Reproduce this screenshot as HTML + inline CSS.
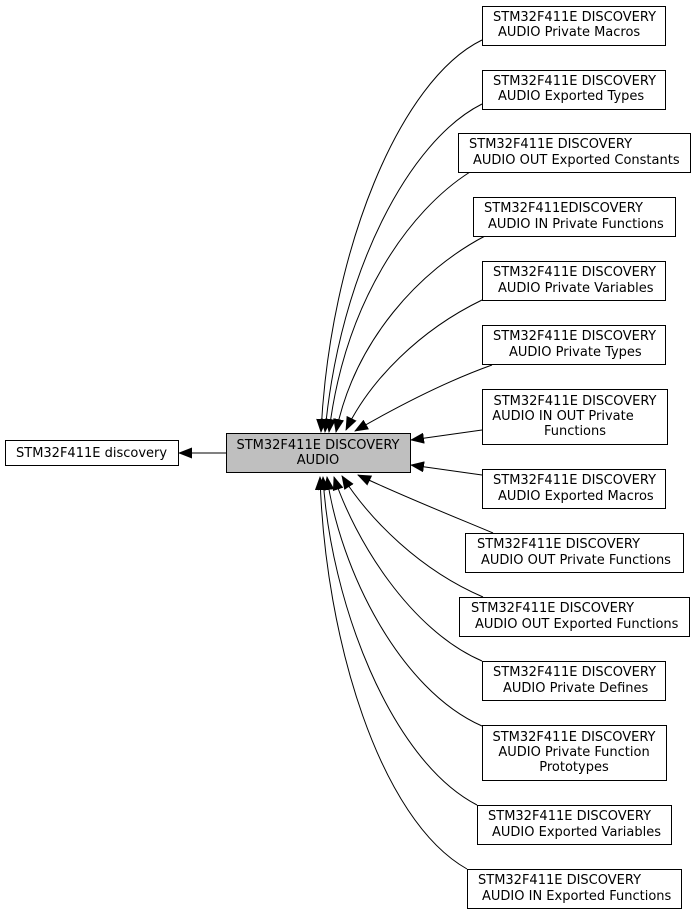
<!DOCTYPE html>
<html><head><meta charset="utf-8"><style>
html,body{margin:0;padding:0;background:#fff;}
svg{display:block;}
text{font-family:"DejaVu Sans","Liberation Sans",sans-serif;font-size:13px;fill:#000;}
</style></head><body>
<svg width="696" height="915" viewBox="0 0 696 915" xmlns="http://www.w3.org/2000/svg">
<defs>
<marker id="a" markerWidth="14" markerHeight="11" refX="13" refY="5.5" orient="auto" markerUnits="userSpaceOnUse">
<polygon points="0,0 14,5.5 0,11" fill="#000"/>
</marker>
</defs>
<g fill="none" stroke="#000" stroke-width="1" marker-end="url(#a)">
<path d="M482,40 C400,80 330,250 321,432"/>
<path d="M482,104 C410,140 340,270 325,432"/>
<path d="M470,172 C410,210 345,300 329,432"/>
<path d="M485,236 C420,270 355,340 336,432"/>
<path d="M482,300 C420,330 370,380 346,430"/>
<path d="M492,365 C450,380 400,405 355,431"/>
<path d="M482,430 L411,440"/>
<path d="M482,475 L411,465"/>
<path d="M493,533 C450,515 400,495 358,475"/>
<path d="M483,597 C420,570 370,520 342,476"/>
<path d="M482,661 C410,630 355,540 334,477"/>
<path d="M482,726 C400,690 340,570 327,477"/>
<path d="M477,805 C390,760 330,600 323,477"/>
<path d="M467,869 C380,820 325,640 320,477"/>
<path d="M226,453 L179,453"/>
</g>
<g fill="#fff" stroke="#000" stroke-width="1">
<rect x="482.5" y="6.5" width="183" height="39"/>
<rect x="482.5" y="70.5" width="183" height="39"/>
<rect x="458.5" y="133.5" width="232" height="39"/>
<rect x="473.5" y="197.5" width="202" height="39"/>
<rect x="482.5" y="261.5" width="183" height="39"/>
<rect x="482.5" y="325.5" width="183" height="39"/>
<rect x="482.5" y="389.5" width="185" height="55"/>
<rect x="482.5" y="469.5" width="183" height="39"/>
<rect x="465.5" y="533.5" width="218" height="39"/>
<rect x="459.5" y="597.5" width="230" height="39"/>
<rect x="482.5" y="661.5" width="183" height="39"/>
<rect x="482.5" y="725.5" width="184" height="55"/>
<rect x="477.5" y="805.5" width="194" height="39"/>
<rect x="467.5" y="869.5" width="214" height="39"/>
<rect x="5.5" y="440.5" width="173" height="25"/>
<rect x="226.5" y="433.5" width="184" height="39" fill="#bfbfbf"/>
</g>
<text x="493" y="21">STM32F411E DISCOVERY</text><text x="498" y="36">AUDIO Private Macros</text>
<text x="493" y="85">STM32F411E DISCOVERY</text><text x="498" y="100">AUDIO Exported Types</text>
<text x="469" y="148">STM32F411E DISCOVERY</text><text x="473" y="164">AUDIO OUT Exported Constants</text>
<text x="484" y="212">STM32F411EDISCOVERY</text><text x="488" y="228">AUDIO IN Private Functions</text>
<text x="493" y="276">STM32F411E DISCOVERY</text><text x="498" y="292">AUDIO Private Variables</text>
<text x="493" y="340">STM32F411E DISCOVERY</text><text x="509" y="356">AUDIO Private Types</text>
<g text-anchor="middle">
<text x="575" y="405">STM32F411E DISCOVERY</text><text x="563" y="420">AUDIO IN OUT Private</text><text x="575" y="435">Functions</text>
<text x="574" y="741">STM32F411E DISCOVERY</text><text x="574" y="756">AUDIO Private Function</text><text x="574" y="771">Prototypes</text>
<text x="318" y="449">STM32F411E DISCOVERY</text><text x="318" y="464">AUDIO</text>
</g>
<text x="493" y="484">STM32F411E DISCOVERY</text><text x="498" y="500">AUDIO Exported Macros</text>
<text x="477" y="548">STM32F411E DISCOVERY</text><text x="481" y="564">AUDIO OUT Private Functions</text>
<text x="471" y="612">STM32F411E DISCOVERY</text><text x="475" y="628">AUDIO OUT Exported Functions</text>
<text x="493" y="676">STM32F411E DISCOVERY</text><text x="503" y="692">AUDIO Private Defines</text>
<text x="488" y="820">STM32F411E DISCOVERY</text><text x="492" y="836">AUDIO Exported Variables</text>
<text x="478" y="884">STM32F411E DISCOVERY</text><text x="482" y="900">AUDIO IN Exported Functions</text>
<text x="16" y="457">STM32F411E discovery</text>
</svg>
</body></html>
